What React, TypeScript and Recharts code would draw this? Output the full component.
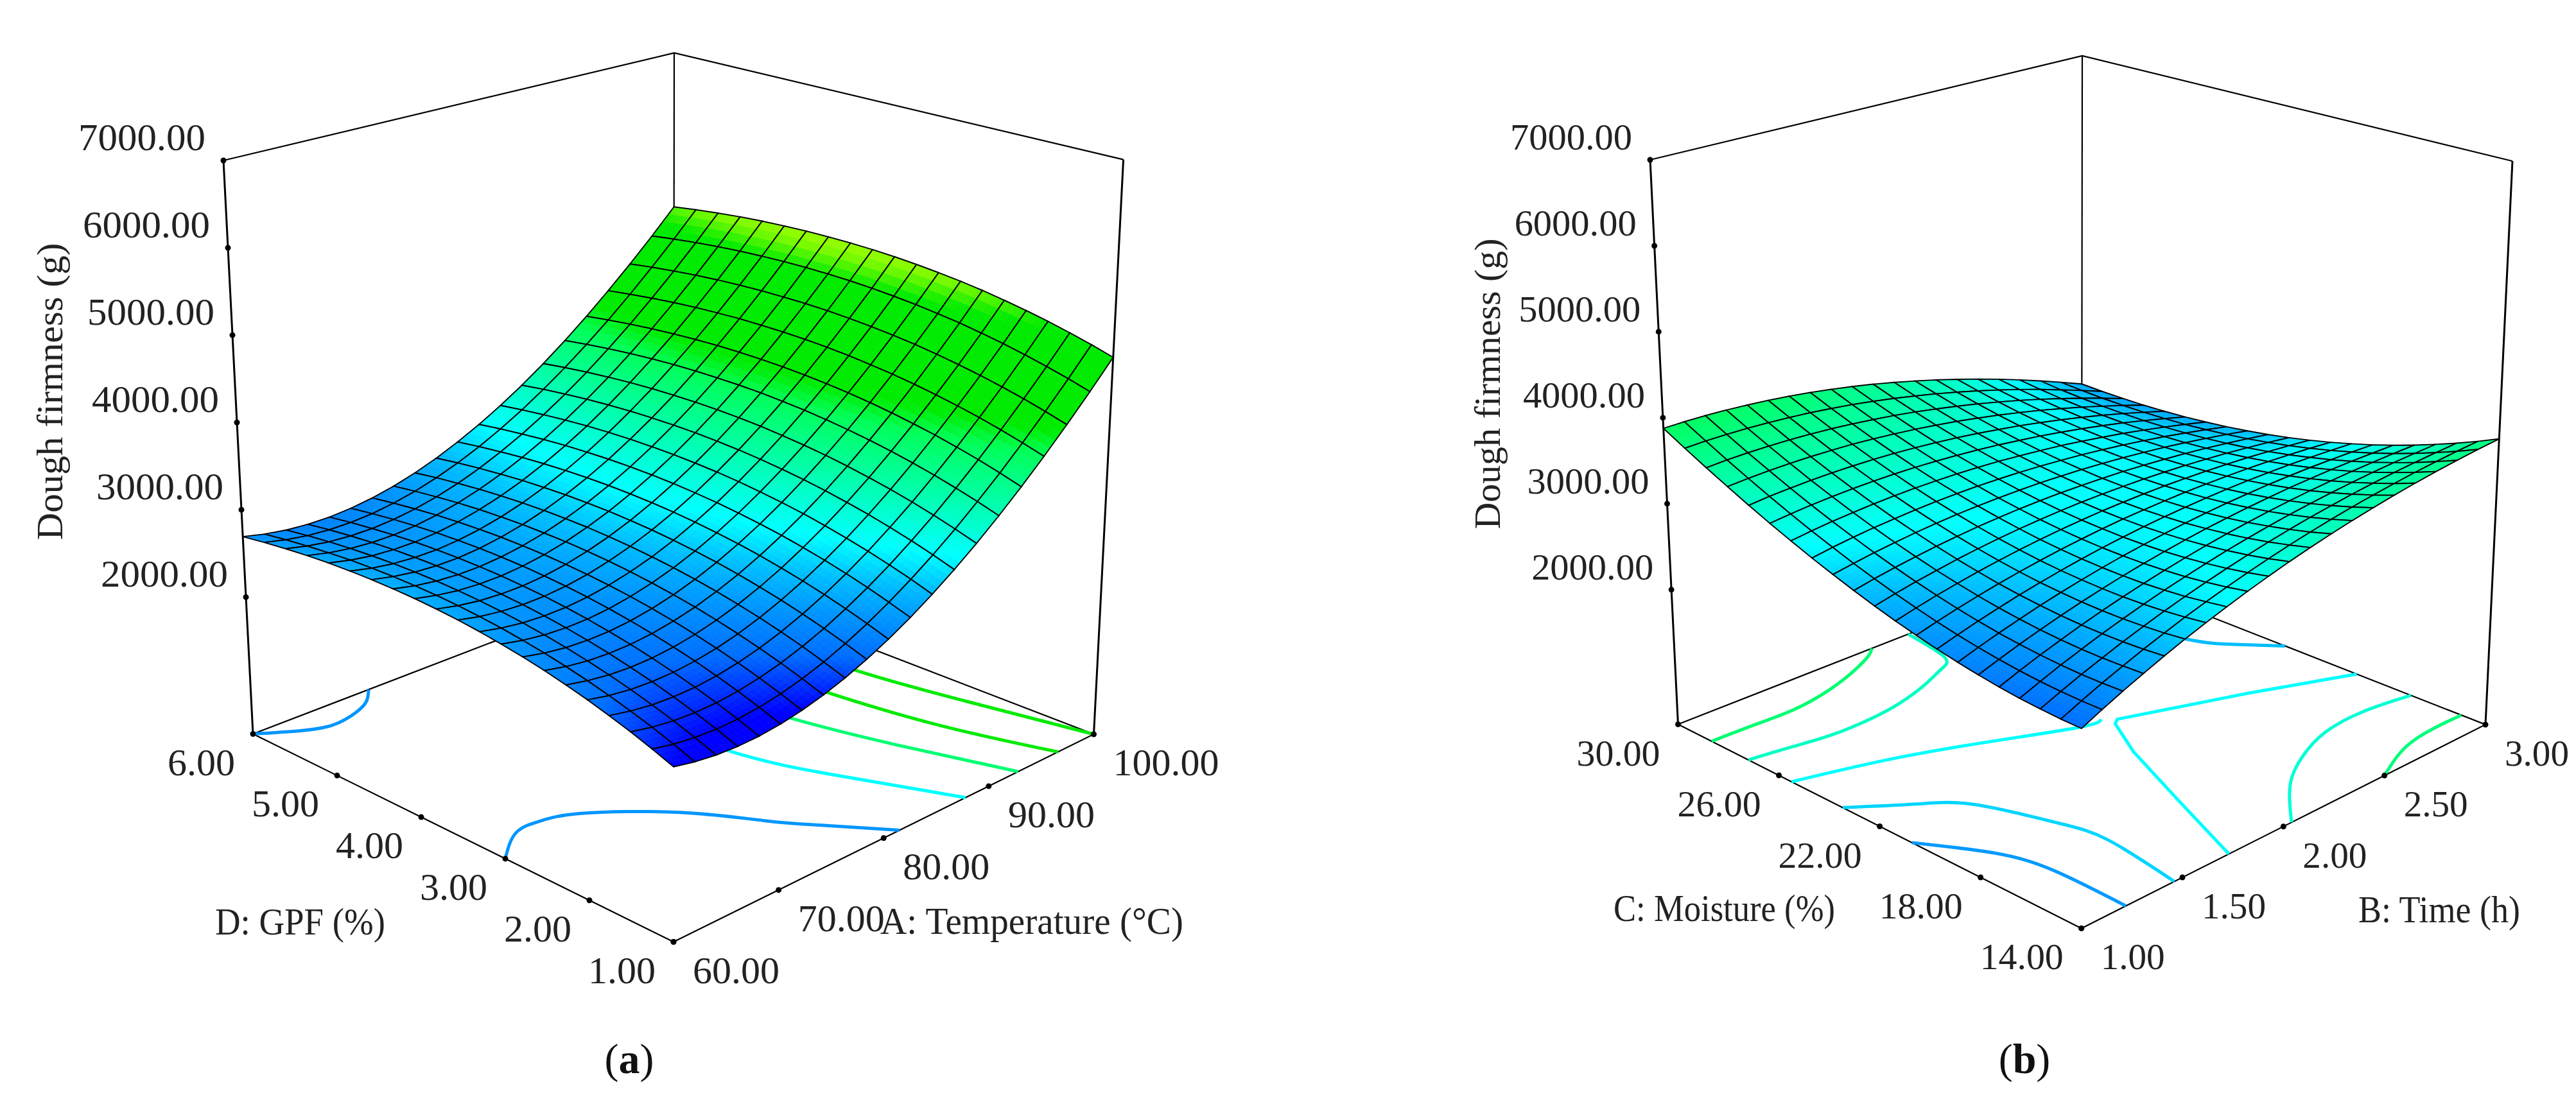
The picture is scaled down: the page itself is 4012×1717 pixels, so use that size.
import { Scatter, ScatterChart, XAxis, YAxis } from 'recharts';

const WIDTH = 4012;
const HEIGHT = 1717;
const FLOOR_Z = 434;
const TOP_Z = 7000;

const firmnessTicks = [2000, 3000, 4000, 5000, 6000, 7000];
const temperatureTicks = [60, 70, 80, 90, 100];
const gpfTicks = [1, 2, 3, 4, 5, 6];
const timeTicks = [1, 1.5, 2, 2.5, 3];
const moistureTicks = [14, 18, 22, 26, 30];

// firmness (g), one row per temperature 60..100 (step 2), columns GPF 1..6 (step .25)
const firmnessA = [
  [2220, 2306, 2386, 2458, 2525, 2584, 2638, 2684, 2724, 2758, 2785, 2805, 2819, 2826, 2827, 2821, 2809, 2790, 2764, 2732, 2693],
  [2175, 2260, 2340, 2411, 2477, 2536, 2589, 2635, 2674, 2708, 2734, 2754, 2768, 2774, 2775, 2769, 2757, 2737, 2711, 2679, 2640],
  [2147, 2232, 2310, 2381, 2447, 2505, 2557, 2603, 2642, 2675, 2701, 2720, 2733, 2740, 2740, 2734, 2721, 2702, 2676, 2643, 2604],
  [2138, 2222, 2300, 2370, 2435, 2492, 2545, 2589, 2628, 2660, 2686, 2705, 2718, 2724, 2724, 2718, 2705, 2685, 2659, 2627, 2587],
  [2146, 2229, 2306, 2376, 2440, 2497, 2549, 2593, 2631, 2663, 2689, 2707, 2720, 2725, 2725, 2718, 2706, 2686, 2659, 2627, 2587],
  [2173, 2256, 2332, 2401, 2465, 2521, 2572, 2616, 2653, 2685, 2710, 2728, 2741, 2746, 2746, 2738, 2725, 2705, 2679, 2646, 2607],
  [2218, 2300, 2376, 2444, 2507, 2563, 2614, 2657, 2694, 2725, 2749, 2767, 2779, 2784, 2784, 2776, 2763, 2743, 2716, 2683, 2644],
  [2281, 2362, 2437, 2505, 2567, 2623, 2673, 2715, 2752, 2783, 2807, 2824, 2836, 2840, 2840, 2832, 2819, 2798, 2771, 2738, 2699],
  [2362, 2442, 2517, 2584, 2646, 2700, 2750, 2792, 2828, 2858, 2882, 2899, 2911, 2915, 2914, 2906, 2892, 2872, 2844, 2812, 2772],
  [2461, 2541, 2614, 2681, 2742, 2796, 2845, 2887, 2922, 2952, 2976, 2992, 3003, 3007, 3006, 2998, 2984, 2963, 2936, 2903, 2863],
  [2578, 2657, 2730, 2796, 2857, 2910, 2959, 3000, 3035, 3064, 3087, 3104, 3114, 3118, 3116, 3108, 3094, 3073, 3045, 3012, 2972],
  [2713, 2791, 2864, 2929, 2989, 3042, 3090, 3130, 3165, 3194, 3216, 3233, 3243, 3246, 3244, 3235, 3221, 3200, 3172, 3139, 3099],
  [2866, 2944, 3015, 3080, 3139, 3192, 3239, 3279, 3313, 3342, 3364, 3380, 3389, 3392, 3390, 3381, 3367, 3345, 3318, 3284, 3244],
  [3037, 3114, 3185, 3249, 3308, 3359, 3406, 3446, 3479, 3507, 3529, 3545, 3554, 3557, 3554, 3545, 3530, 3509, 3481, 3448, 3407],
  [3226, 3302, 3372, 3436, 3494, 3545, 3591, 3631, 3664, 3691, 3713, 3728, 3737, 3739, 3736, 3727, 3712, 3690, 3662, 3629, 3588],
  [3434, 3510, 3579, 3642, 3699, 3750, 3796, 3834, 3867, 3894, 3915, 3930, 3939, 3940, 3937, 3928, 3913, 3891, 3863, 3829, 3789],
  [3659, 3734, 3803, 3865, 3922, 3972, 4017, 4055, 4087, 4114, 4134, 4149, 4157, 4159, 4156, 4146, 4130, 4108, 4080, 4046, 4006],
  [3903, 3977, 4045, 4107, 4163, 4213, 4257, 4295, 4326, 4353, 4373, 4387, 4395, 4396, 4393, 4382, 4367, 4345, 4316, 4282, 4242],
  [4164, 4237, 4305, 4366, 4421, 4470, 4514, 4552, 4583, 4608, 4628, 4642, 4650, 4650, 4647, 4636, 4621, 4598, 4569, 4536, 4495],
  [4443, 4516, 4582, 4643, 4698, 4746, 4790, 4826, 4857, 4882, 4902, 4915, 4922, 4923, 4919, 4908, 4892, 4870, 4841, 4807, 4766],
  [4741, 4813, 4879, 4939, 4993, 5041, 5084, 5120, 5150, 5175, 5194, 5207, 5214, 5214, 5210, 5199, 5183, 5160, 5131, 5097, 5056],
];

// firmness (g), one row per time 1..3 (step .1), columns moisture 14..30 (step .8)
const firmnessB = [
  [2476, 2480, 2492, 2509, 2534, 2567, 2606, 2652, 2704, 2763, 2830, 2904, 2985, 3071, 3166, 3267, 3375, 3491, 3612, 3741, 3877],
  [2578, 2577, 2583, 2595, 2615, 2642, 2675, 2716, 2764, 2818, 2880, 2949, 3024, 3107, 3196, 3292, 3396, 3506, 3623, 3748, 3879],
  [2676, 2670, 2670, 2678, 2692, 2713, 2741, 2777, 2819, 2869, 2925, 2989, 3059, 3137, 3221, 3312, 3410, 3516, 3628, 3748, 3874],
  [2769, 2757, 2752, 2754, 2763, 2779, 2802, 2832, 2870, 2914, 2964, 3023, 3088, 3161, 3239, 3326, 3419, 3520, 3627, 3742, 3863],
  [2860, 2843, 2832, 2829, 2832, 2843, 2861, 2885, 2917, 2956, 3001, 3054, 3114, 3180, 3254, 3335, 3423, 3519, 3621, 3730, 3846],
  [2946, 2923, 2907, 2898, 2896, 2901, 2914, 2932, 2959, 2992, 3033, 3080, 3135, 3196, 3265, 3340, 3423, 3512, 3609, 3713, 3824],
  [3028, 3000, 2978, 2964, 2956, 2956, 2963, 2976, 2997, 3025, 3060, 3103, 3152, 3207, 3270, 3340, 3417, 3502, 3593, 3691, 3796],
  [3106, 3073, 3045, 3026, 3012, 3007, 3008, 3016, 3031, 3053, 3083, 3119, 3162, 3213, 3269, 3334, 3406, 3484, 3569, 3661, 3761],
  [3180, 3140, 3108, 3082, 3065, 3053, 3049, 3051, 3061, 3077, 3101, 3132, 3169, 3214, 3265, 3323, 3389, 3461, 3541, 3628, 3721],
  [3250, 3205, 3167, 3136, 3113, 3095, 3085, 3082, 3087, 3097, 3115, 3140, 3171, 3210, 3256, 3307, 3367, 3434, 3508, 3587, 3675],
  [3317, 3266, 3223, 3187, 3157, 3134, 3118, 3109, 3108, 3113, 3125, 3143, 3169, 3202, 3241, 3287, 3340, 3400, 3468, 3542, 3623],
  [3379, 3323, 3274, 3232, 3197, 3169, 3146, 3132, 3124, 3123, 3129, 3141, 3161, 3188, 3220, 3261, 3308, 3362, 3422, 3489, 3564],
  [3437, 3375, 3322, 3274, 3232, 3198, 3171, 3150, 3136, 3130, 3129, 3135, 3150, 3169, 3196, 3229, 3270, 3317, 3371, 3433, 3500],
  [3492, 3425, 3365, 3312, 3265, 3225, 3192, 3165, 3146, 3133, 3126, 3126, 3133, 3147, 3168, 3195, 3229, 3269, 3316, 3370, 3431],
  [3542, 3469, 3404, 3345, 3293, 3247, 3207, 3175, 3149, 3130, 3117, 3111, 3112, 3119, 3133, 3153, 3180, 3214, 3254, 3302, 3355],
  [3589, 3511, 3440, 3375, 3317, 3266, 3221, 3182, 3150, 3124, 3105, 3092, 3086, 3087, 3094, 3108, 3128, 3155, 3188, 3228, 3274],
  [3632, 3548, 3472, 3401, 3337, 3279, 3229, 3183, 3146, 3113, 3088, 3069, 3057, 3050, 3051, 3057, 3070, 3089, 3116, 3148, 3187],
  [3671, 3582, 3500, 3423, 3353, 3290, 3233, 3182, 3137, 3099, 3067, 3041, 3021, 3008, 3001, 3001, 3007, 3019, 3037, 3062, 3093],
  [3705, 3611, 3522, 3441, 3364, 3295, 3231, 3175, 3123, 3078, 3039, 3007, 2981, 2961, 2947, 2939, 2938, 2942, 2953, 2969, 2993],
  [3736, 3636, 3542, 3454, 3372, 3297, 3228, 3164, 3107, 3055, 3010, 2970, 2937, 2909, 2888, 2873, 2864, 2861, 2864, 2873, 2888],
  [3763, 3658, 3558, 3465, 3377, 3295, 3219, 3150, 3085, 3027, 2974, 2928, 2888, 2853, 2825, 2802, 2785, 2774, 2770, 2770, 2777],
];

// contour lines on the floor, in axis units
const contourTempA = [
  [60, 62.8, 65.2, 67.8, 69.6, 71],
  [60, 63.2, 65.6, 68.4, 73.2, 76.4, 78.4, 81.5],
  [84, 82.8, 82, 81.2, 82, 84.4, 87.8],
  [86.4, 87.2, 88.4, 90.4, 92.8],
  [92, 92.4, 93, 94.4, 96.6],
  [96.4, 96.6, 96.8, 98.3, 100],
];
const contourGpfA = [
  [6, 5.8, 5.7, 5.75, 5.85, 6],
  [3, 3.27, 3.28, 3.14, 2.58, 1.95, 1.57, 1],
  [6, 5.68, 5, 4.5, 3.13, 2.11, 1],
  [6, 4.5, 3.23, 2.12, 1],
  [6, 4.5, 3.33, 2.12, 1],
  [6, 4.6, 3.45, 2.22, 1],
];
const contourFirmnessA = [2700, 2700, 3126, 3800, 4300, 4300];

const contourTimeB = [
  [1, 1.2, 1.4, 1.59, 1.76, 1.9, 1.96],
  [1, 1.18, 1.36, 1.56, 1.72, 1.89, 2.02, 2.1, 2.14],
  [1, 1.39, 1.75, 2.05, 2.14],
  [3, 2.64, 2.18, 2.15, 2.04, 1.89, 1.73],
  [1, 1.21, 1.36, 1.47, 1.51, 1.46],
  [1, 1.16, 1.22, 1.22],
  [2.04, 2.24, 2.42, 2.6, 2.8, 3],
  [2.5, 2.7, 2.87, 3],
  [2.74, 2.81, 2.89, 3],
];
const contourMoistureB = [
  [28.67, 28.64, 28.61, 28.83, 29.22, 29.68, 30],
  [27.21, 27.01, 26.8, 26.8, 26.96, 27.33, 27.73, 28.24, 30],
  [25.5, 24.64, 23.49, 22.4, 22.35],
  [19.1, 20.53, 22.03, 21.87, 20.26, 17.31, 14],
  [23.47, 22.26, 21.12, 18.82, 17.02, 14],
  [20.72, 18.7, 16.78, 14],
  [14, 15.65, 16.59, 17.15, 17.26, 16.95],
  [14, 14.77, 14.98, 14.96],
  [26.8, 24.27, 23.09, 21.94],
];
const contourFirmnessB = [3800, 3400, 3126, 3126, 2980, 2720, 3320, 3750, 2900];

// firmness -> surface colour
const colorStops: [number, number, number, number][] = [
  [2220, 0, 0, 255],
  [2476, 0, 110, 255],
  [2700, 0, 150, 255],
  [2900, 0, 190, 255],
  [3126, 0, 255, 255],
  [3520, 0, 255, 170],
  [3914, 0, 255, 90],
  [4111, 0, 235, 0],
  [4900, 0, 235, 0],
  [5100, 120, 250, 0],
  [5227, 160, 255, 0],
];

const colorOf = (z: number) => {
  for (let i = 1; i < colorStops.length; i++) {
    if (z <= colorStops[i][0]) {
      const a = colorStops[i - 1];
      const b = colorStops[i];
      const k = Math.max(0, (z - a[0]) / (b[0] - a[0]));
      return `rgb(${Math.round(a[1] + (b[1] - a[1]) * k)},${Math.round(a[2] + (b[2] - a[2]) * k)},${Math.round(a[3] + (b[3] - a[3]) * k)})`;
    }
  }
  return 'rgb(160,255,0)';
};

type Pt = { x: number; y: number };

interface Scene {
  xRange: [number, number];
  yRange: [number, number];
  floor: { F: Pt; R: Pt; L: Pt; B: Pt };
  top: { F: Pt; R: Pt; L: Pt; B: Pt };
}

const sceneA: Scene = {
  xRange: [60, 100],
  yRange: [1, 6],
  floor: { F: { x: 1049, y: 1467.5 }, R: { x: 1703.5, y: 1144 }, L: { x: 394, y: 1143.5 }, B: { x: 1049, y: 892 } },
  top: { F: { x: 1049, y: 465 }, R: { x: 1749.6, y: 248.6 }, L: { x: 348, y: 250 }, B: { x: 1050, y: 82.5 } },
};

const sceneB: Scene = {
  xRange: [1, 3],
  yRange: [14, 30],
  floor: { F: { x: 3241.7, y: 1446.4 }, R: { x: 3871, y: 1129 }, L: { x: 2613.5, y: 1128.6 }, B: { x: 3242, y: 882 } },
  top: { F: { x: 3242, y: 445 }, R: { x: 3913, y: 251 }, L: { x: 2570, y: 249 }, B: { x: 3243, y: 87 } },
};

const quad = (q: Scene['floor'], u: number, v: number): Pt => ({
  x: q.F.x * (1 - u) * (1 - v) + q.R.x * u * (1 - v) + q.L.x * (1 - u) * v + q.B.x * u * v,
  y: q.F.y * (1 - u) * (1 - v) + q.R.y * u * (1 - v) + q.L.y * (1 - u) * v + q.B.y * u * v,
});

// fractions along the two floor axes + firmness -> chart plane
const place = (s: Scene, u: number, v: number, z: number): Pt => {
  const t = (z - FLOOR_Z) / (TOP_Z - FLOOR_Z);
  const f = quad(s.floor, u, v);
  const c = quad(s.top, u, v);
  return { x: f.x + (c.x - f.x) * t, y: f.y + (c.y - f.y) * t };
};

const onFloor = (s: Scene, xv: number, yv: number) =>
  place(s, (xv - s.xRange[0]) / (s.xRange[1] - s.xRange[0]), (yv - s.yRange[0]) / (s.yRange[1] - s.yRange[0]), FLOOR_Z);

const buildCells = (s: Scene, rows: number[][]) => {
  const n = rows.length - 1;
  const m = rows[0].length - 1;
  const cells = [];
  // back to front, so nearer cells paint over farther ones
  for (let i = n - 1; i >= 0; i--) {
    for (let j = m - 1; j >= 0; j--) {
      const corners = [
        place(s, i / n, j / m, rows[i][j]),
        place(s, (i + 1) / n, j / m, rows[i + 1][j]),
        place(s, (i + 1) / n, (j + 1) / m, rows[i + 1][j + 1]),
        place(s, i / n, (j + 1) / m, rows[i][j + 1]),
      ];
      cells.push({
        x: (corners[0].x + corners[2].x) / 2,
        y: (corners[0].y + corners[2].y) / 2,
        corners,
        heights: [rows[i][j], rows[i + 1][j], rows[i + 1][j + 1], rows[i][j + 1]],
      });
    }
  }
  return cells;
};

const SHADE_STEPS = 4;

const blend = (v: number[], a: number, b: number) =>
  v[0] * (1 - a) * (1 - b) + v[1] * a * (1 - b) + v[2] * a * b + v[3] * (1 - a) * b;

const CellShape = (props: any) => {
  const { cx, cy, payload } = props;
  const dx = cx - payload.x;
  const dy = cy - payload.y;
  const xs = payload.corners.map((c: Pt) => c.x + dx);
  const ys = payload.corners.map((c: Pt) => c.y + dy);
  const patches = [];
  for (let p = 0; p < SHADE_STEPS; p++) {
    for (let q = 0; q < SHADE_STEPS; q++) {
      const a0 = p / SHADE_STEPS;
      const a1 = (p + 1) / SHADE_STEPS;
      const b0 = q / SHADE_STEPS;
      const b1 = (q + 1) / SHADE_STEPS;
      const pts = [[a0, b0], [a1, b0], [a1, b1], [a0, b1]]
        .map(([a, b]) => `${blend(xs, a, b).toFixed(1)},${blend(ys, a, b).toFixed(1)}`)
        .join(' ');
      const color = colorOf(blend(payload.heights, (a0 + a1) / 2, (b0 + b1) / 2));
      patches.push(<polygon key={`${p}-${q}`} points={pts} fill={color} stroke={color} strokeWidth={0.7} />);
    }
  }
  const outline = xs.map((x: number, i: number) => `${x.toFixed(1)},${ys[i].toFixed(1)}`).join(' ');
  return (
    <g>
      {patches}
      <polygon points={outline} fill="none" stroke="#000" strokeWidth={1.9} />
    </g>
  );
};

const NoDot = () => null;
const TickDot = (props: any) => <circle cx={props.cx} cy={props.cy} r={4.5} fill="#000" />;

const FONT = '"Liberation Serif", serif';

const labelShape = (dx: number, dy: number, width: number, anchor: 'start' | 'end' = 'start', size = 60) => (props: any) => (
  <text
    x={props.cx + dx}
    y={props.cy + dy}
    fontFamily={FONT}
    fontSize={size}
    fill="#222"
    textAnchor={anchor}
    textLength={props.payload.w ?? width}
    lengthAdjust="spacingAndGlyphs"
  >
    {props.payload.label}
  </text>
);

const RotatedTitle = (props: any) => (
  <text
    transform={`translate(${props.cx},${props.cy}) rotate(-90)`}
    fontFamily={FONT}
    fontSize={58}
    fill="#222"
    textAnchor="middle"
    textLength={props.payload.w}
    lengthAdjust="spacingAndGlyphs"
  >
    {props.payload.label}
  </text>
);

const Caption = (props: any) => (
  <text x={props.cx} y={props.cy} fontFamily={FONT} fontSize={66} fill="#111" textAnchor="middle">
    (<tspan fontWeight="bold">{props.payload.label}</tspan>)
  </text>
);

const boxEdges = (s: Scene) => {
  const c = (u: number, v: number, z: number) => place(s, u, v, z);
  return {
    thin: [
      [c(0, 1, FLOOR_Z), c(0, 0, FLOOR_Z), c(1, 0, FLOOR_Z), c(1, 1, FLOOR_Z), c(0, 1, FLOOR_Z)],
      [c(0, 1, TOP_Z), c(1, 1, TOP_Z), c(1, 0, TOP_Z)],
      [c(1, 1, FLOOR_Z), c(1, 1, TOP_Z)],
    ],
    thick: [
      [c(0, 1, FLOOR_Z), c(0, 1, TOP_Z)],
      [c(1, 0, FLOOR_Z), c(1, 0, TOP_Z)],
    ],
  };
};

const contourLines = (s: Scene, xs: number[][], ys: number[][]) =>
  xs.map((line, i) => line.map((xv, k) => onFloor(s, xv, ys[i][k])));

const ticksOn = (values: number[], at: (v: number) => Pt) =>
  values.map((v) => ({ ...at(v), label: v.toFixed(2) }));

const zAxisPoint = (s: Scene) => (v: number) => place(s, 0, 1, v);

const textMarks = [
  { x: 335, y: 1456, label: 'D: GPF (%)', w: 265 },
  { x: 1371, y: 1455, label: 'A: Temperature (°C)', w: 472 },
  { x: 2513, y: 1435, label: 'C: Moisture (%)', w: 345 },
  { x: 3673, y: 1437, label: 'B: Time (h)', w: 252 },
];

const renderPanel = (
  s: Scene,
  rows: number[][],
  xTicks: number[],
  yTicks: number[],
  xWidth: (v: number) => number,
  yWidth: number,
  zWidth: number,
  yLabelDx: number,
  fontSize: number,
  contours: Pt[][],
  levels: number[],
  sharp: number,
  key: string,
) => {
  const box = boxEdges(s);
  const xMarks = ticksOn(xTicks, (v) => onFloor(s, v, s.yRange[0])).map((t, i) => ({ ...t, w: xWidth(xTicks[i]) }));
  const yMarks = ticksOn(yTicks, (v) => onFloor(s, s.xRange[0], v));
  const zMarks = ticksOn(firmnessTicks, zAxisPoint(s));
  return [
    ...box.thin.map((d, i) => (
      <Scatter key={`${key}t${i}`} data={d} line={{ stroke: '#000', strokeWidth: 2.2 }} shape={NoDot} isAnimationActive={false} />
    )),
    ...box.thick.map((d, i) => (
      <Scatter key={`${key}k${i}`} data={d} line={{ stroke: '#000', strokeWidth: 3 }} shape={NoDot} isAnimationActive={false} />
    )),
    ...contours.map((d, i) => (
      <Scatter
        key={`${key}c${i}`}
        data={d}
        line={{ stroke: colorOf(levels[i]), strokeWidth: 5 }}
        lineJointType={i === sharp ? 'linear' : 'natural'}
        shape={NoDot}
        isAnimationActive={false}
      />
    )),
    <Scatter key={`${key}xd`} data={xMarks} shape={TickDot} isAnimationActive={false} />,
    <Scatter key={`${key}yd`} data={yMarks} shape={TickDot} isAnimationActive={false} />,
    <Scatter key={`${key}zd`} data={zMarks} shape={TickDot} isAnimationActive={false} />,
    <Scatter key={`${key}s`} data={buildCells(s, rows)} shape={CellShape} isAnimationActive={false} />,
    <Scatter key={`${key}xl`} data={xMarks} shape={labelShape(30, 64, 135, 'start', fontSize)} isAnimationActive={false} />,
    <Scatter key={`${key}yl`} data={yMarks} shape={labelShape(yLabelDx, 64, yWidth, 'start', fontSize)} isAnimationActive={false} />,
    <Scatter key={`${key}zl`} data={zMarks} shape={labelShape(-28, -16, zWidth, 'end', fontSize)} isAnimationActive={false} />,
  ];
};

export default function App() {
  const panelA = renderPanel(
    sceneA, firmnessA, temperatureTicks, gpfTicks, (v) => (v === 100 ? 165 : 135), 105, 198, -133, 60,
    contourLines(sceneA, contourTempA, contourGpfA), contourFirmnessA, -1, 'a',
  );
  const panelB = renderPanel(
    sceneB, firmnessB, timeTicks, moistureTicks, () => 100, 130, 190, -158, 58,
    contourLines(sceneB, contourTimeB, contourMoistureB), contourFirmnessB, 3, 'b',
  );
  return (
    <div style={{ position: 'absolute', left: 0, top: 0, background: '#fff' }}>
      <ScatterChart width={WIDTH} height={HEIGHT} margin={{ top: 0, right: 0, bottom: 0, left: 0 }}>
        <XAxis type="number" dataKey="x" domain={[0, WIDTH]} hide />
        <YAxis type="number" dataKey="y" domain={[0, HEIGHT]} reversed hide />
        {panelA}
        {panelB}
        <Scatter data={textMarks} shape={labelShape(0, 0, 200)} isAnimationActive={false} />
        <Scatter
          data={[
            { x: 97, y: 610, label: 'Dough firmness (g)', w: 463 },
            { x: 2336, y: 598, label: 'Dough firmness (g)', w: 453 },
          ]}
          shape={RotatedTitle}
          isAnimationActive={false}
        />
        <Scatter
          data={[
            { x: 980, y: 1672, label: 'a' },
            { x: 3153, y: 1672, label: 'b' },
          ]}
          shape={Caption}
          isAnimationActive={false}
        />
      </ScatterChart>
    </div>
  );
}
